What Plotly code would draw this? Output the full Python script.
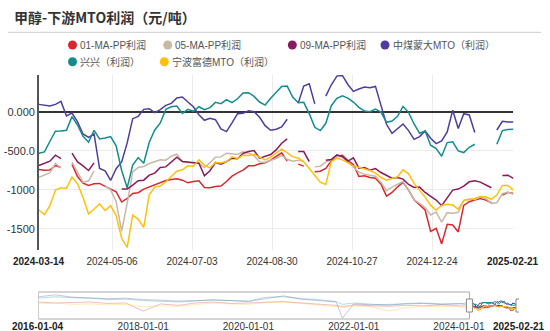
import pandas as pd
import plotly.graph_objects as go

W, H = 550, 331
N = None

# common 4-day date grid, 2024-03-14 .. 2025-02-21
dates = pd.date_range("2024-03-14", periods=87, freq="4D")

series_names = ["01-MA-PP利润", "05-MA-PP利润", "09-MA-PP利润",
                "中煤蒙大MTO（利润）", "兴兴（利润）", "宁波富德MTO（利润）"]
colors = ["#d7282f", "#c8b9a6", "#8b1a5c", "#4e3d9e", "#158c8c", "#fdc10b"]

ma01 = [-740, -750, -745, -690, -715, N, -676, -829, -914, -944, -923, -918, -956, -990, -1024,
        -1156, -1110, -1046, -1037, -990, -961, -935, -901, -880, -867, -859, -876, -910, -893,
        -884, -969, -973, -956, -952, -893, -825, -782, -748, -693, -693, -667, -655, -620, -578,
        -527, -633, N, -671, -697, N, -769, -761, -727, -629, -570, -557, -625, -676,
        -829, -820, -842, -850, -927, -1080, -1033, -961, -905, -1003, -1127, -1195, -1258, -1531, -1492,
        -1692, -1441, -1450, -1539, -1199, -1152, -1131, -1110, -1131, -1165, N, -1067, -1033, -1046]

ma05 = [-840, -815, -780, -660, -720, N, -646, -778, -905, -884, -757, N, -948, -999, -1150,
        -1530, -1173, -769, -714, -701, -663, -642, -616, -620, -570, -544, -638, -650, -655,
        -659, -714, -655, -582, -578, -531, -540, -548, -514, -527, -565, -642, -646, -620, -599,
        -561, -608, -633, -620, -633, N, -706, -697, -646, -608, -574, -578, -642, -718,
        -774, -799, -808, -825, -905, -1007, -965, -931, -893, -1003, -1127, -1173, -1225, -1322, -1284,
        -1412, -1292, -1301, -1288, -1135, -1118, -1122, -1093, -1110, -1173, -1165, -1050, -1029, -1058]

ma09 = [-688, -663, -633, -557, -599, N, -531, -642, -693, -752, -655, N, N, N, N,
        -990, -990, -939, -884, -876, -812, -786, -714, -706, -638, -582, -638, -646, -646,
        -659, -820, -756, -650, -671, -638, -595, -603, -535, -510, -497, -595, -574, -548, -489,
        -404, -348, N, -510, -510, -638, N, N, -620, -612, -553, -574, -633, -591,
        -723, -714, -748, -727, -778, -816, -850, -842, -863, -931, -969, -965, -1033, -1084, -1131,
        -1203, -1101, -1003, -990, -952, -897, -884, -901, -939, -973, N, -816, -812, -854]

mengda = [94, 81, 73, 94, 132, -55, -17, -131, -285, -327, -285, -727, -757, -880, -730,
          -642, -399, -89, -59, 30, 39, -12, 26, 81, 107, 175, 188, 124, 64,
          -38, -110, -85, -102, -221, -255, -144, -25, -21, 13, 0, -72, -178, -238, -225,
          -195, -97, N, 110, 328, 358, 100, N, 200, 345, 456, 464, 349, 260,
          290, 315, 307, 324, 81, -161, -276, -221, -157, -242, -353, -318, -246, -340, -408,
          -374, -259, 18, -216, -25, -42, -267, N, N, N, -234, -123, -131, -131]

xingxing = [-531, -514, -378, -250, -246, -238, -63, -170, -314, -391, -238, -348, -336, -318, -437,
            -752, -974, -684, -587, -659, -391, -233, -144, 30, 64, 73, -21, 30, 5,
            64, 26, 52, 120, 103, 154, 115, 166, 239, 243, 196, 124, 85, 171, 251,
            324, 328, 188, 115, 120, -25, -200, -242, -148, 77, 171, 205, 175, 124,
            56, 9, 0, 34, -4, -136, -119, -59, 68, -8, -157, -276, -246, -429, -472,
            -570, -395, -386, -501, -523, -455, -416, N, N, N, -416, -242, -229, -225]

ningbo = [-1258, -1318, -1203, -1003, -973, -978, -837, -922, -1097, -1309, -1246, -1178, -1263, -1203, -1331,
          -1620, -1735, -1322, -1377, -1480, -1063, -965, -952, -897, -829, -761, -744, -693, -697,
          -616, -684, -718, -650, -655, -638, -578, -599, -557, -561, -544, -582, -616, -582, -535,
          -480, -523, -578, -591, -642, -727, -820, -901, -930, -638, -595, -616, -655, -693,
          -710, -727, -752, -786, -842, -876, -854, -833, -744, -795, -918, -1003, -1093, -1199, -1258,
          -1199, -1186, -1195, -1246, -1135, -1122, -1110, -1084, -1088, -1122, -1067, -944, -944, -1003]

series_values = [ma01, ma05, ma09, mengda, xingxing, ningbo]

# coarse history (2016-2024) as seen faintly in the overview slider
hist_dates = ["2016-01-04", "2016-05-01", "2016-09-01", "2017-01-01", "2017-05-01", "2017-09-01",
              "2018-01-01", "2018-05-01", "2018-09-01", "2019-01-01", "2019-05-01", "2019-09-01",
              "2020-01-01", "2020-05-01", "2020-09-01", "2021-01-01", "2021-05-01", "2021-09-01",
              "2021-10-15", "2022-01-01", "2022-05-01", "2022-09-01", "2023-01-01", "2023-05-01",
              "2023-09-01", "2024-01-01", "2024-03-13"]
hist_ma01 = [200, 0, 100, 200, -100, 0, -1700, -200, -500, 0, 200, -100, 0, 200, 300, 0, -300, -500,
             -800, -400, -600, -700, -500, -600, -400, -500, -700]
hist_mengda = [1300, 1700, 1200, 1100, 900, 1000, 700, 600, 400, 500, 600, 500, 300, 900, 1500, 800, 500, 200,
               -3200, -200, -400, -300, -200, -100, -300, -200, 100]
hist_xingxing = [1000, 1300, 1100, 1000, 700, 800, 500, 300, 200, 400, 700, 500, 400, 1200, 1300, 900, 700, 300,
                 -300, 0, -200, -500, -100, 0, -200, -100, -500]
hist_ningbo = [-200, 0, -300, -200, -400, -300, -800, -600, -700, -300, 0, -200, -300, 100, 200, -100, -400, -700,
               -900, -600, -800, -1700, -900, -800, -700, -800, -1250]
hist_series = [(hist_ma01, "#d7282f"), (hist_mengda, "#4e3d9e"), (hist_xingxing, "#158c8c"), (hist_ningbo, "#fdc10b")]

x_start, x_end = "2024-03-14", "2025-02-21"
inner_ticks = ["2024-05-06", "2024-07-03", "2024-08-30", "2024-10-27", "2024-12-24"]
y_ticks = [0, -500, -1000, -1500]
y_ticktext = ["0.000", "-500.0", "-1000", "-1500"]
ov_start = "2016-01-04"
ov_inner_ticks = ["2018-01-01", "2020-01-01", "2022-01-01", "2024-01-01"]


def px(x):
    return x / W


def py(y):
    return 1 - y / H


fig = go.Figure()
for name, vals, col in zip(series_names, series_values, colors):
    fig.add_trace(go.Scatter(x=dates, y=vals, mode="lines", name=name,
                             line=dict(color=col, width=1.5), connectgaps=False,
                             xaxis="x", yaxis="y", showlegend=False))
for vals, col in hist_series:
    fig.add_trace(go.Scatter(x=hist_dates, y=vals, mode="lines", opacity=0.3,
                             line=dict(color=col, width=1), xaxis="x2", yaxis="y2",
                             showlegend=False, hoverinfo="skip"))
for name, vals, col in zip(series_names, series_values, colors):
    fig.add_trace(go.Scatter(x=dates, y=vals, mode="lines", name=name,
                             line=dict(color=col, width=1), connectgaps=True,
                             xaxis="x2", yaxis="y2", showlegend=False, hoverinfo="skip"))

tick_font = dict(family="Liberation Sans, Arial, sans-serif", size=10, color="#333")

fig.update_layout(
    width=W, height=H, margin=dict(l=0, r=0, t=0, b=0, autoexpand=False),
    paper_bgcolor="white", plot_bgcolor="white",
    xaxis=dict(domain=[px(38.9), px(513.4)], type="date", automargin=False,
               range=[x_start, x_end], tickvals=inner_ticks, tickformat="%Y-%m-%d",
               ticklabelstandoff=4,
               showgrid=True, gridcolor="#ececec", gridwidth=1, tickangle=0,
               showline=False, zeroline=False, ticks="", tickfont=tick_font),
    yaxis=dict(domain=[py(250), py(75)], range=[-1770, 470], automargin=False,
               tickvals=y_ticks, ticktext=y_ticktext,
               showgrid=True, gridcolor="#ececec", gridwidth=1,
               zeroline=True, zerolinecolor="#333", zerolinewidth=2,
               showline=True, linecolor="#555", linewidth=1.5,
               ticks="", tickfont=dict(family="Liberation Sans, Arial, sans-serif", size=11, color="#333")),
    xaxis2=dict(domain=[px(38.3), px(519)], type="date", anchor="y2", automargin=False,
                range=[ov_start, x_end], tickvals=ov_inner_ticks, tickformat="%Y-%m-%d", tickangle=0,
                showgrid=False, showline=False, zeroline=False, ticks="", tickfont=tick_font),
    yaxis2=dict(domain=[py(319), py(292)], range=[-3360, 2300], anchor="x2", automargin=False,
                showgrid=False, showticklabels=False, zeroline=False, showline=False),
)

# bold end labels of both date axes
bold_font = dict(family="Liberation Sans, Arial, sans-serif", size=10, color="#222")
for xr, d, yy in [("x", x_start, 261), ("x", x_end, 261), ("x2", ov_start, 326), ("x2", x_end, 326)]:
    fig.add_annotation(x=d, y=py(yy), xref=xr, yref="paper", xanchor="center", yanchor="middle",
                       text="<b>" + d + "</b>", showarrow=False, font=bold_font)

# title
fig.add_annotation(x=px(12), y=py(17), xref="paper", yref="paper", xanchor="left", yanchor="middle",
                   text="<b>甲醇-下游MTO利润（元/吨）</b>", showarrow=False,
                   font=dict(family="Noto Sans CJK SC", size=14, color="#333"))
fig.add_shape(type="line", xref="paper", yref="paper", x0=px(8), x1=px(541), y0=py(32.3), y1=py(32.3),
              line=dict(color="#cccccc", width=1))

# legend
legend_pos = [(72.5, 45), (167.7, 45), (292.3, 45), (385, 45), (72.5, 61.7), (164.3, 61.7)]
for (cx, cy), name, col in zip(legend_pos, series_names, colors):
    r = 4.5
    fig.add_shape(type="circle", xref="paper", yref="paper",
                  x0=px(cx - r), x1=px(cx + r), y0=py(cy + r), y1=py(cy - r),
                  fillcolor=col, line=dict(width=0))
    fig.add_annotation(x=px(cx + 5.5), y=py(cy), xref="paper", yref="paper", xanchor="left", yanchor="middle",
                       text=name, showarrow=False,
                       font=dict(family="Liberation Sans, Noto Sans CJK SC, sans-serif", size=10, color="#555"))

# overview frame and handles
fig.add_shape(type="rect", xref="x2", yref="paper", x0=ov_start, x1=x_start,
              y0=py(319), y1=py(292), line=dict(color="#aaaaaa", width=1), fillcolor="rgba(0,0,0,0)")
for d in [x_start, x_end]:
    fig.add_shape(type="rect", xref="x2", yref="paper", xsizemode="pixel", xanchor=d,
                  x0=-3, x1=3, y0=py(312), y1=py(299),
                  line=dict(color="#888", width=1), fillcolor="white")

fig.write_html("out.html")
